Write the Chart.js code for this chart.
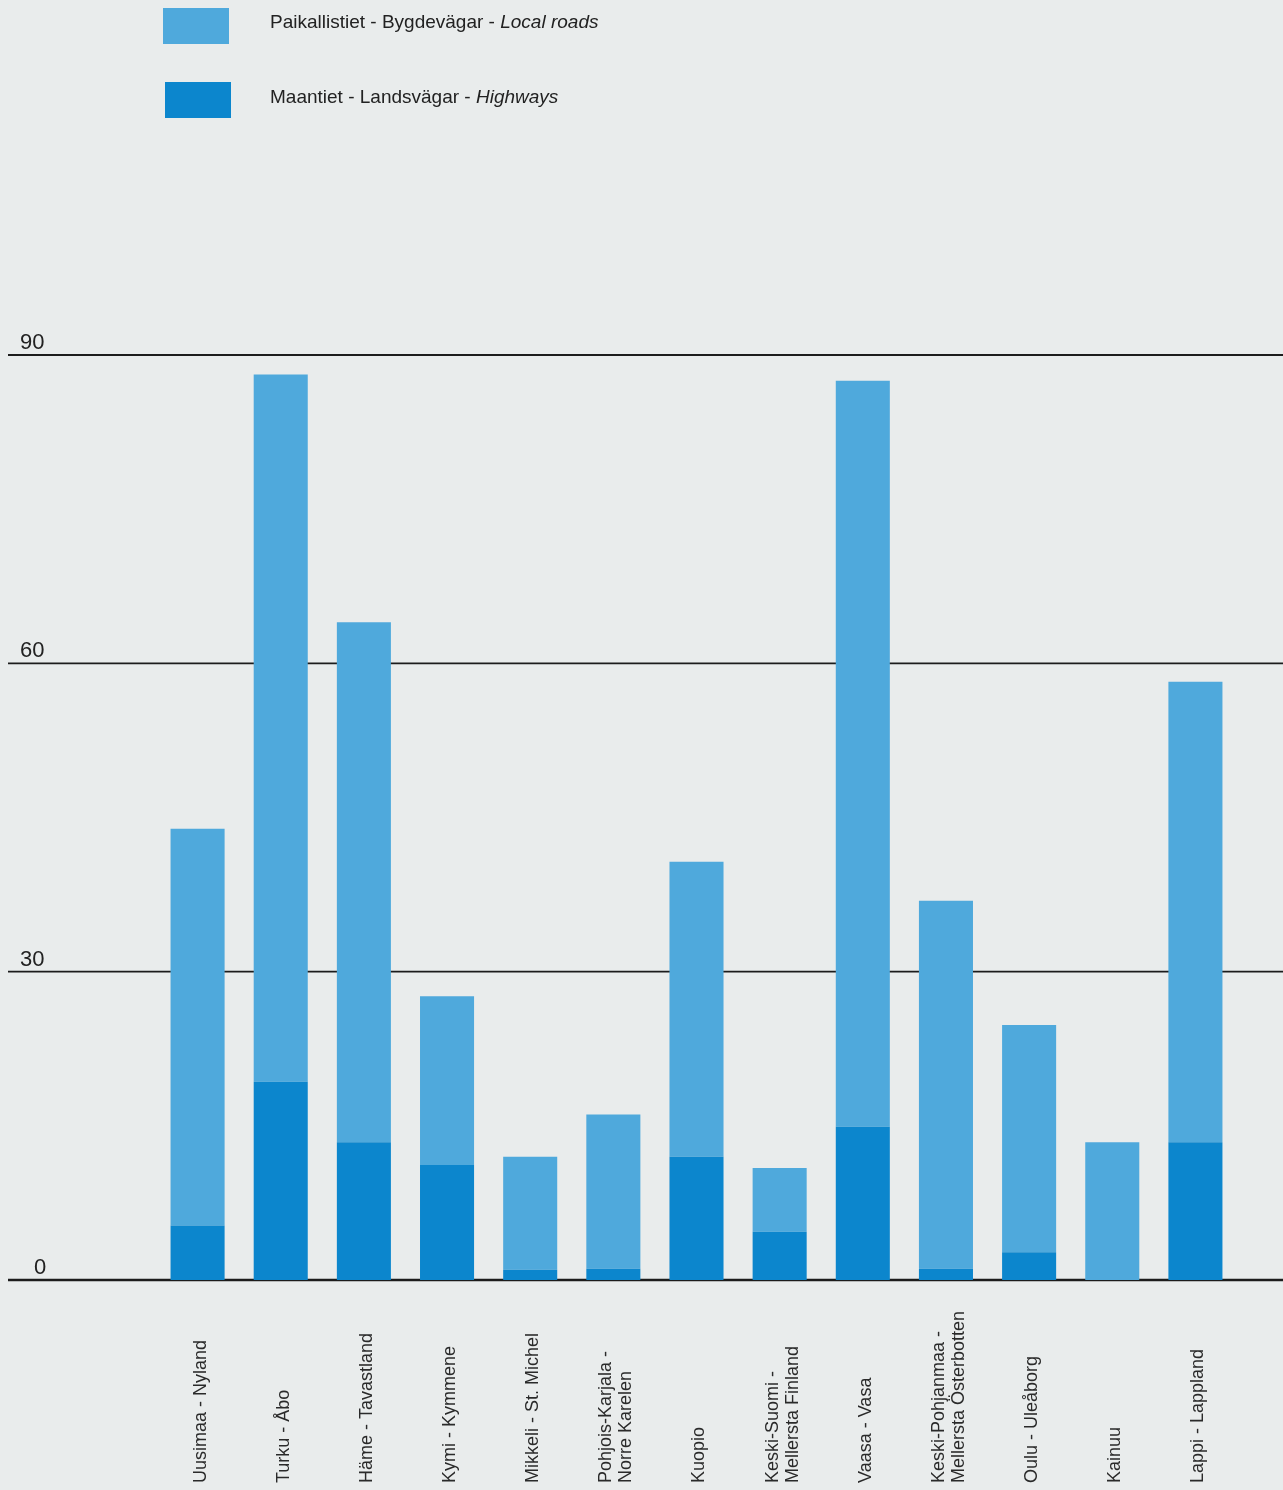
<!DOCTYPE html>
<html>
<head>
<meta charset="utf-8">
<script src="https://cdn.jsdelivr.net/npm/chart.js@4/dist/chart.umd.min.js"></script>
<style>
    html, body { margin: 0; padding: 0; background: #e9ecec; }
    #wrap { position: relative; width: 1283px; height: 1490px; }
    #chart { position: absolute; left: 0; top: 0; }
    .legItem { position: absolute; left: 0; font-family: "Liberation Sans", Arial, sans-serif; font-size: 19px; color: #222; }
    .legBox { position: absolute; width: 66px; height: 36px; }
    .legText { position: absolute; left: 270px; white-space: nowrap; }
</style>
</head>
<body>
<div id="wrap">
    <canvas id="chart" width="1283" height="1490"></canvas>
    <div class="legItem">
        <div class="legBox" style="left:163px; top:8px; background:#4fa9dc;"></div>
        <div class="legText" style="top:11px;">Paikallistiet - Bygdevägar - <i>Local roads</i></div>
        <div class="legBox" style="left:165px; top:82px; background:#0c86cd;"></div>
        <div class="legText" style="top:86px;">Maantiet - Landsvägar - <i>Highways</i></div>
    </div>
</div>
<script>
var regions = [
    ["Uusimaa - Nyland"], ["Turku - Åbo"], ["Häme - Tavastland"], ["Kymi - Kymmene"],
    ["Mikkeli - St. Michel"], ["Pohjois-Karjala -", "Norre Karelen"], ["Kuopio"],
    ["Keski-Suomi -", "Mellersta Finland"], ["Vaasa - Vasa"],
    ["Keski-Pohjanmaa -", "Mellersta Österbotten"], ["Oulu - Uleåborg"], ["Kainuu"], ["Lappi - Lappland"]
];
var highways = [5.3, 19.3, 13.4, 11.2, 1.0, 1.1, 12.0, 4.7, 14.9, 1.1, 2.7, 0, 13.4];
var localRoads = [38.6, 68.8, 50.6, 16.4, 11.0, 15.0, 28.7, 6.2, 72.6, 35.8, 22.1, 13.4, 44.8];
var yTicks = [0, 30, 60, 90];

var lightBlue = '#4fa9dc';
var darkBlue = '#0c86cd';

// gridlines across the whole page, behind the bars
var gridPlugin = {
    id: 'fullGrid',
    beforeDatasetsDraw: function (chart) {
        var ctx = chart.ctx;
        var yScale = chart.scales.y;
        ctx.save();
        ctx.strokeStyle = '#1c1c1c';
        ctx.fillStyle = '#222';
        ctx.font = '22px "Liberation Sans", Arial, sans-serif';
        ctx.textBaseline = 'alphabetic';
        ctx.textAlign = 'left';
        yTicks.forEach(function (t) {
            var y = yScale.getPixelForValue(t);
            ctx.lineWidth = t === 0 ? 2.5 : 1.8;
            ctx.beginPath();
            ctx.moveTo(8, y);
            ctx.lineTo(1283, y);
            ctx.stroke();
            ctx.fillText(String(t), t === 0 ? 34 : 20, y - 6);
        });
        ctx.restore();
    },
    afterDraw: function (chart) {
        var ctx = chart.ctx;
        var xScale = chart.scales.x;
        ctx.save();
        ctx.fillStyle = '#2a2a2a';
        ctx.font = '18px "Liberation Sans", Arial, sans-serif';
        ctx.textAlign = 'left';
        ctx.textBaseline = 'middle';
        regions.forEach(function (lines, i) {
            var x = xScale.getPixelForValue(i);
            var n = lines.length;
            lines.forEach(function (line, j) {
                var off = (j - (n - 1) / 2) * 20 + 3;
                ctx.save();
                ctx.translate(x + off, 1483);
                ctx.rotate(-Math.PI / 2);
                ctx.fillText(line, 0, 0);
                ctx.restore();
            });
        });
        ctx.restore();
    }
};

var ctx = document.getElementById('chart');
var myChart = new Chart(ctx, {
    type: 'bar',
    data: {
        labels: regions,
        datasets: [{
            label: 'Maantiet - Landsvägar - Highways',
            data: highways,
            backgroundColor: darkBlue,
            borderWidth: 0
        }, {
            label: 'Paikallistiet - Bygdevägar - Local roads',
            data: localRoads,
            backgroundColor: lightBlue,
            borderWidth: 0
        }]
    },
    options: {
        responsive: false,
        animation: false,
        layout: {
            padding: { left: 156, right: 46, top: 355, bottom: 210 }
        },
        datasets: {
            bar: { barPercentage: 0.65, categoryPercentage: 1.0 }
        },
        scales: {
            x: { stacked: true, display: false },
            y: { stacked: true, display: false, min: 0, max: 90 }
        },
        plugins: {
            legend: { display: false },
            tooltip: { enabled: false }
        }
    },
    plugins: [gridPlugin]
});
</script>
</body>
</html>
